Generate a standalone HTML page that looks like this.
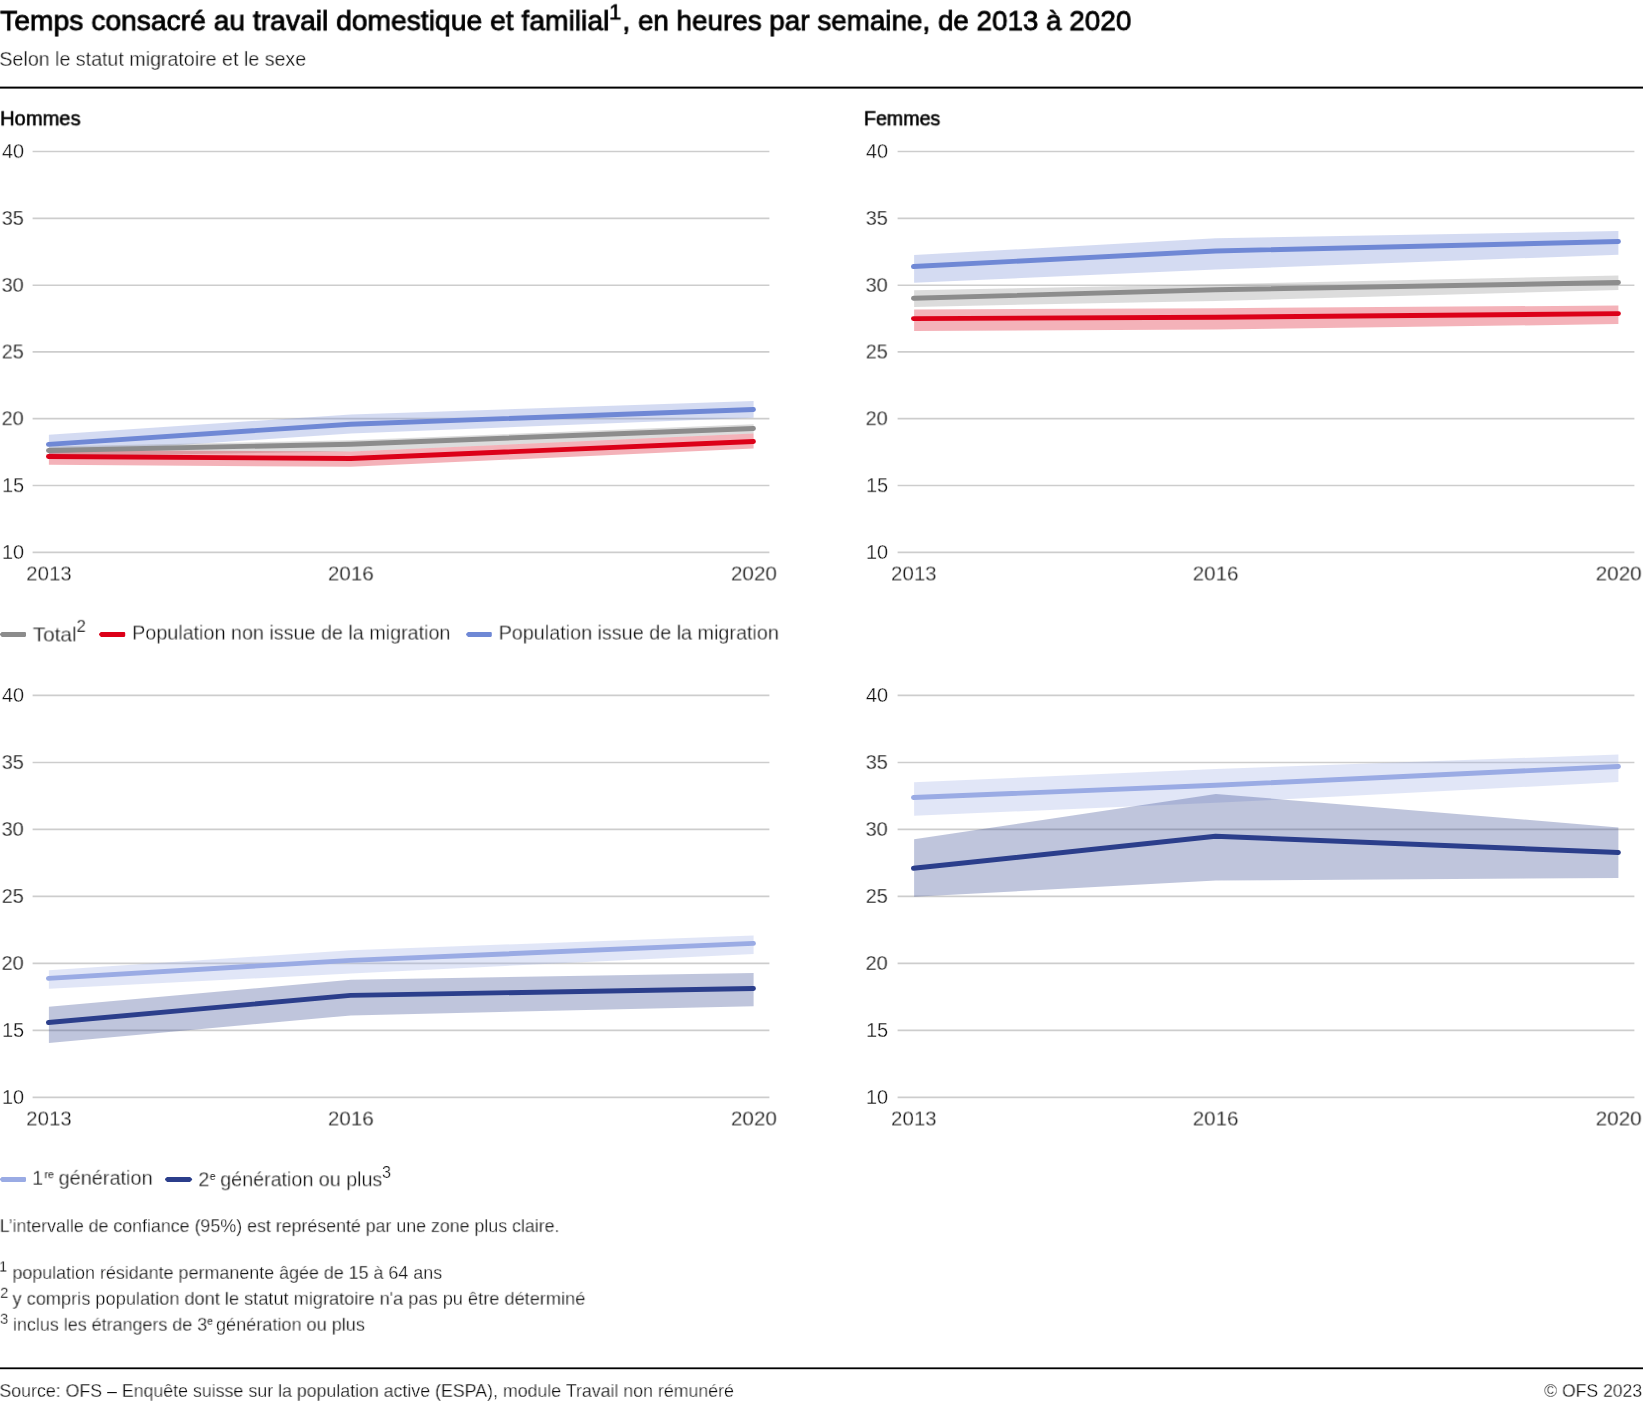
<!DOCTYPE html>
<html lang="fr"><head><meta charset="utf-8"><title>Temps consacré au travail domestique et familial</title>
<style>
html,body{margin:0;padding:0;background:#fff;}
body{width:1643px;height:1402px;position:relative;overflow:hidden;font-family:"Liberation Sans", sans-serif;}
.g{position:absolute;left:0;top:0;}
.t{position:absolute;white-space:pre;transform-origin:0 0;display:block;will-change:transform;}
</style></head>
<body>
<svg class="g" width="1643" height="1402" viewBox="0 0 1643 1402">
<rect x="0" y="86.6" width="1643" height="2" fill="#000"/>
<rect x="0" y="1367.4" width="1643" height="1.8" fill="#000"/>
<line x1="32.6" x2="769.4" y1="552.40" y2="552.40" stroke="#cdcdcd" stroke-width="1.6"/>
<line x1="32.6" x2="769.4" y1="485.55" y2="485.55" stroke="#cdcdcd" stroke-width="1.6"/>
<line x1="32.6" x2="769.4" y1="418.60" y2="418.60" stroke="#cdcdcd" stroke-width="1.6"/>
<line x1="32.6" x2="769.4" y1="351.90" y2="351.90" stroke="#cdcdcd" stroke-width="1.6"/>
<line x1="32.6" x2="769.4" y1="285.30" y2="285.30" stroke="#cdcdcd" stroke-width="1.6"/>
<line x1="32.6" x2="769.4" y1="218.40" y2="218.40" stroke="#cdcdcd" stroke-width="1.6"/>
<line x1="32.6" x2="769.4" y1="151.50" y2="151.50" stroke="#cdcdcd" stroke-width="1.6"/>
<polygon points="48.9,434.7 350.9,414.5 753.6,401.1 753.6,417.7 350.9,433.4 48.9,454.0" fill="#6f88d5" fill-opacity="0.3"/>
<polygon points="48.9,446.5 350.9,440.2 753.6,424.2 753.6,433.6 350.9,451.5 48.9,456.5" fill="#8c8c8c" fill-opacity="0.3"/>
<polygon points="48.9,450.0 350.9,451.6 753.6,433.6 753.6,448.5 350.9,466.8 48.9,464.8" fill="#dc0018" fill-opacity="0.3"/>
<polyline points="48.45,444.4 350.60,424.2 753.45,409.5" fill="none" stroke="#6f88d5" stroke-width="4.9" stroke-linecap="round" stroke-linejoin="round"/>
<polyline points="48.45,450.5 350.60,444.2 753.45,428.5" fill="none" stroke="#8c8c8c" stroke-width="4.9" stroke-linecap="round" stroke-linejoin="round"/>
<polyline points="48.45,456.5 350.60,458.5 753.45,441.5" fill="none" stroke="#dc0018" stroke-width="4.9" stroke-linecap="round" stroke-linejoin="round"/>
<line x1="897.6" x2="1634.4" y1="552.40" y2="552.40" stroke="#cdcdcd" stroke-width="1.6"/>
<line x1="897.6" x2="1634.4" y1="485.55" y2="485.55" stroke="#cdcdcd" stroke-width="1.6"/>
<line x1="897.6" x2="1634.4" y1="418.60" y2="418.60" stroke="#cdcdcd" stroke-width="1.6"/>
<line x1="897.6" x2="1634.4" y1="351.90" y2="351.90" stroke="#cdcdcd" stroke-width="1.6"/>
<line x1="897.6" x2="1634.4" y1="285.30" y2="285.30" stroke="#cdcdcd" stroke-width="1.6"/>
<line x1="897.6" x2="1634.4" y1="218.40" y2="218.40" stroke="#cdcdcd" stroke-width="1.6"/>
<line x1="897.6" x2="1634.4" y1="151.50" y2="151.50" stroke="#cdcdcd" stroke-width="1.6"/>
<polygon points="914.1,255.1 1215.9,238.2 1618.4,231.0 1618.4,254.7 1215.9,269.5 914.1,282.8" fill="#6f88d5" fill-opacity="0.3"/>
<polygon points="914.1,290.2 1215.9,284.2 1618.4,275.5 1618.4,290.0 1215.9,300.9 914.1,306.9" fill="#8c8c8c" fill-opacity="0.3"/>
<polygon points="914.1,309.5 1215.9,308.2 1618.4,305.5 1618.4,324.1 1215.9,329.6 914.1,330.9" fill="#dc0018" fill-opacity="0.3"/>
<polyline points="913.45,266.5 1215.60,251.0 1618.45,241.5" fill="none" stroke="#6f88d5" stroke-width="4.9" stroke-linecap="round" stroke-linejoin="round"/>
<polyline points="913.45,298.3 1215.60,289.8 1618.45,282.5" fill="none" stroke="#8c8c8c" stroke-width="4.9" stroke-linecap="round" stroke-linejoin="round"/>
<polyline points="913.45,318.6 1215.60,317.2 1618.45,313.6" fill="none" stroke="#dc0018" stroke-width="4.9" stroke-linecap="round" stroke-linejoin="round"/>
<line x1="32.6" x2="769.4" y1="1097.40" y2="1097.40" stroke="#cdcdcd" stroke-width="1.6"/>
<line x1="32.6" x2="769.4" y1="1030.40" y2="1030.40" stroke="#cdcdcd" stroke-width="1.6"/>
<line x1="32.6" x2="769.4" y1="963.40" y2="963.40" stroke="#cdcdcd" stroke-width="1.6"/>
<line x1="32.6" x2="769.4" y1="896.40" y2="896.40" stroke="#cdcdcd" stroke-width="1.6"/>
<line x1="32.6" x2="769.4" y1="829.40" y2="829.40" stroke="#cdcdcd" stroke-width="1.6"/>
<line x1="32.6" x2="769.4" y1="762.45" y2="762.45" stroke="#cdcdcd" stroke-width="1.6"/>
<line x1="32.6" x2="769.4" y1="695.40" y2="695.40" stroke="#cdcdcd" stroke-width="1.6"/>
<polygon points="48.9,970.3 350.9,950.2 753.6,935.4 753.6,953.9 350.9,973.5 48.9,988.7" fill="#9aabe4" fill-opacity="0.3"/>
<polygon points="48.9,1006.7 350.9,979.8 753.6,972.9 753.6,1006.3 350.9,1015.4 48.9,1042.9" fill="#2b3e8b" fill-opacity="0.3"/>
<polyline points="48.45,978.4 350.60,960.4 753.45,943.4" fill="none" stroke="#9aabe4" stroke-width="4.9" stroke-linecap="round" stroke-linejoin="round"/>
<polyline points="48.45,1022.5 350.60,995.4 753.45,988.5" fill="none" stroke="#2b3e8b" stroke-width="4.9" stroke-linecap="round" stroke-linejoin="round"/>
<line x1="897.6" x2="1634.4" y1="1097.40" y2="1097.40" stroke="#cdcdcd" stroke-width="1.6"/>
<line x1="897.6" x2="1634.4" y1="1030.40" y2="1030.40" stroke="#cdcdcd" stroke-width="1.6"/>
<line x1="897.6" x2="1634.4" y1="963.40" y2="963.40" stroke="#cdcdcd" stroke-width="1.6"/>
<line x1="897.6" x2="1634.4" y1="896.40" y2="896.40" stroke="#cdcdcd" stroke-width="1.6"/>
<line x1="897.6" x2="1634.4" y1="829.40" y2="829.40" stroke="#cdcdcd" stroke-width="1.6"/>
<line x1="897.6" x2="1634.4" y1="762.45" y2="762.45" stroke="#cdcdcd" stroke-width="1.6"/>
<line x1="897.6" x2="1634.4" y1="695.40" y2="695.40" stroke="#cdcdcd" stroke-width="1.6"/>
<polygon points="914.1,782.3 1215.9,769.0 1618.4,754.5 1618.4,782.1 1215.9,802.8 914.1,815.8" fill="#9aabe4" fill-opacity="0.3"/>
<polygon points="914.1,839.3 1215.9,793.9 1618.4,827.4 1618.4,878.0 1215.9,880.6 914.1,896.7" fill="#2b3e8b" fill-opacity="0.3"/>
<polyline points="913.45,797.5 1215.60,785.3 1618.45,766.5" fill="none" stroke="#9aabe4" stroke-width="4.9" stroke-linecap="round" stroke-linejoin="round"/>
<polyline points="913.45,868.3 1215.60,836.3 1618.45,852.5" fill="none" stroke="#2b3e8b" stroke-width="4.9" stroke-linecap="round" stroke-linejoin="round"/>
<line x1="1.30" x2="23.00" y1="634.4" y2="634.4" stroke="#8c8c8c" stroke-width="2.8" stroke-linecap="round"/>
<rect x="1.00" y="631.90" width="25.00" height="5" rx="1.1" fill="#8c8c8c"/>
<line x1="100.40" x2="122.20" y1="634.4" y2="634.4" stroke="#dc0018" stroke-width="2.8" stroke-linecap="round"/>
<rect x="100.10" y="631.90" width="25.10" height="5" rx="1.1" fill="#dc0018"/>
<line x1="467.50" x2="488.80" y1="634.4" y2="634.4" stroke="#6f88d5" stroke-width="2.8" stroke-linecap="round"/>
<rect x="467.20" y="631.90" width="24.60" height="5" rx="1.1" fill="#6f88d5"/>
<line x1="1.30" x2="23.00" y1="1179.45" y2="1179.45" stroke="#9aabe4" stroke-width="2.8" stroke-linecap="round"/>
<rect x="1.00" y="1176.95" width="25.00" height="5" rx="1.1" fill="#9aabe4"/>
<line x1="166.40" x2="190.70" y1="1179.45" y2="1179.45" stroke="#2b3e8b" stroke-width="2.8" stroke-linecap="round"/>
<rect x="166.20" y="1176.95" width="24.70" height="5" rx="1.1" fill="#2b3e8b"/>
</svg>
<span class="t" id="t1" style="left:0px;top:4px;font-size:28.44px;line-height:32px;font-weight:400;color:#000;-webkit-text-stroke:0.8px #000;transform:matrix(0.9933,0,0,1,0.13,0.15);">Temps consacré au travail domestique et familial</span>
<span class="t" id="t1s" style="left:609px;top:-1px;font-size:22px;line-height:25px;font-weight:400;color:#000;-webkit-text-stroke:0.6px #000;transform:matrix(0.9980,0,0,1,0.09,0.40);">1</span>
<span class="t" id="t2" style="left:622px;top:4px;font-size:28.2px;line-height:32px;font-weight:400;color:#000;-webkit-text-stroke:0.8px #000;transform:matrix(0.9869,0,0,1,0.43,0.15);">, en heures par semaine, de 2013 à 2020</span>
<span class="t" id="sub" style="left:-1px;top:47px;font-size:20px;line-height:22px;font-weight:400;color:#0d0d0d;-webkit-text-stroke:0.30px #fff;transform:matrix(0.9820,0,0,1,0.35,0.90);">Selon le statut migratoire et le sexe</span>
<span class="t" id="hom" style="left:0px;top:107px;font-size:20.25px;line-height:23px;font-weight:400;color:#000;-webkit-text-stroke:0.55px #000;transform:matrix(0.9923,0,0,1,0.12,0.30);">Hommes</span>
<span class="t" id="fem" style="left:863px;top:107px;font-size:20px;line-height:22px;font-weight:400;color:#000;-webkit-text-stroke:0.55px #000;transform:matrix(0.9809,0,0,1,0.94,0.30);">Femmes</span>
<span class="t" id="y00_10" style="left:1px;top:541px;font-size:20px;line-height:22px;font-weight:400;color:#0d0d0d;-webkit-text-stroke:0.30px #fff;transform:matrix(0.9980,0,0,1,0.93,0.00);">10</span>
<span class="t" id="y00_15" style="left:2px;top:474px;font-size:20px;line-height:22px;font-weight:400;color:#0d0d0d;-webkit-text-stroke:0.30px #fff;transform:matrix(0.9980,0,0,1,0.03,0.15);">15</span>
<span class="t" id="y00_20" style="left:1px;top:407px;font-size:20px;line-height:22px;font-weight:400;color:#0d0d0d;-webkit-text-stroke:0.30px #fff;transform:matrix(0.9980,0,0,1,0.55,0.20);">20</span>
<span class="t" id="y00_25" style="left:1px;top:340px;font-size:20px;line-height:22px;font-weight:400;color:#0d0d0d;-webkit-text-stroke:0.30px #fff;transform:matrix(0.9980,0,0,1,0.64,0.50);">25</span>
<span class="t" id="y00_30" style="left:1px;top:273px;font-size:20px;line-height:22px;font-weight:400;color:#0d0d0d;-webkit-text-stroke:0.30px #fff;transform:matrix(0.9980,0,0,1,0.56,0.90);">30</span>
<span class="t" id="y00_35" style="left:1px;top:207px;font-size:20px;line-height:22px;font-weight:400;color:#0d0d0d;-webkit-text-stroke:0.30px #fff;transform:matrix(0.9980,0,0,1,0.65,0.00);">35</span>
<span class="t" id="y00_40" style="left:1px;top:140px;font-size:20px;line-height:22px;font-weight:400;color:#0d0d0d;-webkit-text-stroke:0.30px #fff;transform:matrix(0.9980,0,0,1,0.93,0.10);">40</span>
<span class="t" id="x00_13" style="left:26px;top:561px;font-size:20.58px;line-height:23px;font-weight:400;color:#0d0d0d;-webkit-text-stroke:0.31px #fff;transform:matrix(0.9963,0,0,1,0.14,0.50);">2013</span>
<span class="t" id="x00_16" style="left:327px;top:561px;font-size:20.81px;line-height:23px;font-weight:400;color:#0d0d0d;-webkit-text-stroke:0.31px #fff;transform:matrix(0.9895,0,0,1,0.85,0.50);">2016</span>
<span class="t" id="x00_20" style="left:730px;top:561px;font-size:20.88px;line-height:23px;font-weight:400;color:#0d0d0d;-webkit-text-stroke:0.31px #fff;transform:matrix(0.9926,0,0,1,0.83,0.50);">2020</span>
<span class="t" id="y01_10" style="left:865px;top:541px;font-size:20px;line-height:22px;font-weight:400;color:#0d0d0d;-webkit-text-stroke:0.30px #fff;transform:matrix(0.9980,0,0,1,0.93,0.00);">10</span>
<span class="t" id="y01_15" style="left:866px;top:474px;font-size:20px;line-height:22px;font-weight:400;color:#0d0d0d;-webkit-text-stroke:0.30px #fff;transform:matrix(0.9980,0,0,1,0.03,0.15);">15</span>
<span class="t" id="y01_20" style="left:865px;top:407px;font-size:20px;line-height:22px;font-weight:400;color:#0d0d0d;-webkit-text-stroke:0.30px #fff;transform:matrix(0.9980,0,0,1,0.55,0.20);">20</span>
<span class="t" id="y01_25" style="left:865px;top:340px;font-size:20px;line-height:22px;font-weight:400;color:#0d0d0d;-webkit-text-stroke:0.30px #fff;transform:matrix(0.9980,0,0,1,0.64,0.50);">25</span>
<span class="t" id="y01_30" style="left:865px;top:273px;font-size:20px;line-height:22px;font-weight:400;color:#0d0d0d;-webkit-text-stroke:0.30px #fff;transform:matrix(0.9980,0,0,1,0.56,0.90);">30</span>
<span class="t" id="y01_35" style="left:865px;top:207px;font-size:20px;line-height:22px;font-weight:400;color:#0d0d0d;-webkit-text-stroke:0.30px #fff;transform:matrix(0.9980,0,0,1,0.65,0.00);">35</span>
<span class="t" id="y01_40" style="left:865px;top:140px;font-size:20px;line-height:22px;font-weight:400;color:#0d0d0d;-webkit-text-stroke:0.30px #fff;transform:matrix(0.9980,0,0,1,0.93,0.10);">40</span>
<span class="t" id="x01_13" style="left:890px;top:561px;font-size:20.58px;line-height:23px;font-weight:400;color:#0d0d0d;-webkit-text-stroke:0.31px #fff;transform:matrix(0.9963,0,0,1,0.94,0.50);">2013</span>
<span class="t" id="x01_16" style="left:1192px;top:561px;font-size:20.81px;line-height:23px;font-weight:400;color:#0d0d0d;-webkit-text-stroke:0.31px #fff;transform:matrix(0.9895,0,0,1,0.65,0.50);">2016</span>
<span class="t" id="x01_20" style="left:1595px;top:561px;font-size:20.88px;line-height:23px;font-weight:400;color:#0d0d0d;-webkit-text-stroke:0.31px #fff;transform:matrix(0.9926,0,0,1,0.63,0.50);">2020</span>
<span class="t" id="y10_10" style="left:1px;top:1086px;font-size:20px;line-height:22px;font-weight:400;color:#0d0d0d;-webkit-text-stroke:0.30px #fff;transform:matrix(0.9980,0,0,1,0.93,0.00);">10</span>
<span class="t" id="y10_15" style="left:2px;top:1019px;font-size:20px;line-height:22px;font-weight:400;color:#0d0d0d;-webkit-text-stroke:0.30px #fff;transform:matrix(0.9980,0,0,1,0.03,0.00);">15</span>
<span class="t" id="y10_20" style="left:1px;top:952px;font-size:20px;line-height:22px;font-weight:400;color:#0d0d0d;-webkit-text-stroke:0.30px #fff;transform:matrix(0.9980,0,0,1,0.55,0.00);">20</span>
<span class="t" id="y10_25" style="left:1px;top:885px;font-size:20px;line-height:22px;font-weight:400;color:#0d0d0d;-webkit-text-stroke:0.30px #fff;transform:matrix(0.9980,0,0,1,0.64,0.00);">25</span>
<span class="t" id="y10_30" style="left:1px;top:818px;font-size:20px;line-height:22px;font-weight:400;color:#0d0d0d;-webkit-text-stroke:0.30px #fff;transform:matrix(0.9980,0,0,1,0.56,0.00);">30</span>
<span class="t" id="y10_35" style="left:1px;top:751px;font-size:20px;line-height:22px;font-weight:400;color:#0d0d0d;-webkit-text-stroke:0.30px #fff;transform:matrix(0.9980,0,0,1,0.65,0.05);">35</span>
<span class="t" id="y10_40" style="left:1px;top:684px;font-size:20px;line-height:22px;font-weight:400;color:#0d0d0d;-webkit-text-stroke:0.30px #fff;transform:matrix(0.9980,0,0,1,0.93,0.00);">40</span>
<span class="t" id="x10_13" style="left:26px;top:1106px;font-size:20.58px;line-height:23px;font-weight:400;color:#0d0d0d;-webkit-text-stroke:0.31px #fff;transform:matrix(0.9963,0,0,1,0.14,0.50);">2013</span>
<span class="t" id="x10_16" style="left:327px;top:1106px;font-size:20.81px;line-height:23px;font-weight:400;color:#0d0d0d;-webkit-text-stroke:0.31px #fff;transform:matrix(0.9895,0,0,1,0.85,0.50);">2016</span>
<span class="t" id="x10_20" style="left:730px;top:1106px;font-size:20.88px;line-height:23px;font-weight:400;color:#0d0d0d;-webkit-text-stroke:0.31px #fff;transform:matrix(0.9926,0,0,1,0.83,0.50);">2020</span>
<span class="t" id="y11_10" style="left:865px;top:1086px;font-size:20px;line-height:22px;font-weight:400;color:#0d0d0d;-webkit-text-stroke:0.30px #fff;transform:matrix(0.9980,0,0,1,0.93,0.00);">10</span>
<span class="t" id="y11_15" style="left:866px;top:1019px;font-size:20px;line-height:22px;font-weight:400;color:#0d0d0d;-webkit-text-stroke:0.30px #fff;transform:matrix(0.9980,0,0,1,0.03,0.00);">15</span>
<span class="t" id="y11_20" style="left:865px;top:952px;font-size:20px;line-height:22px;font-weight:400;color:#0d0d0d;-webkit-text-stroke:0.30px #fff;transform:matrix(0.9980,0,0,1,0.55,0.00);">20</span>
<span class="t" id="y11_25" style="left:865px;top:885px;font-size:20px;line-height:22px;font-weight:400;color:#0d0d0d;-webkit-text-stroke:0.30px #fff;transform:matrix(0.9980,0,0,1,0.64,0.00);">25</span>
<span class="t" id="y11_30" style="left:865px;top:818px;font-size:20px;line-height:22px;font-weight:400;color:#0d0d0d;-webkit-text-stroke:0.30px #fff;transform:matrix(0.9980,0,0,1,0.56,0.00);">30</span>
<span class="t" id="y11_35" style="left:865px;top:751px;font-size:20px;line-height:22px;font-weight:400;color:#0d0d0d;-webkit-text-stroke:0.30px #fff;transform:matrix(0.9980,0,0,1,0.65,0.05);">35</span>
<span class="t" id="y11_40" style="left:865px;top:684px;font-size:20px;line-height:22px;font-weight:400;color:#0d0d0d;-webkit-text-stroke:0.30px #fff;transform:matrix(0.9980,0,0,1,0.93,0.00);">40</span>
<span class="t" id="x11_13" style="left:890px;top:1106px;font-size:20.58px;line-height:23px;font-weight:400;color:#0d0d0d;-webkit-text-stroke:0.31px #fff;transform:matrix(0.9963,0,0,1,0.94,0.50);">2013</span>
<span class="t" id="x11_16" style="left:1192px;top:1106px;font-size:20.81px;line-height:23px;font-weight:400;color:#0d0d0d;-webkit-text-stroke:0.31px #fff;transform:matrix(0.9895,0,0,1,0.65,0.50);">2016</span>
<span class="t" id="x11_20" style="left:1595px;top:1106px;font-size:20.88px;line-height:23px;font-weight:400;color:#0d0d0d;-webkit-text-stroke:0.31px #fff;transform:matrix(0.9926,0,0,1,0.63,0.50);">2020</span>
<span class="t" id="l1a" style="left:32px;top:622px;font-size:21.04px;line-height:24px;font-weight:400;color:#0d0d0d;-webkit-text-stroke:0.32px #fff;transform:matrix(0.9882,0,0,1,0.71,0.50);">Total</span>
<span class="t" id="l1as" style="left:76px;top:616px;font-size:16.6px;line-height:19px;font-weight:400;color:#0d0d0d;-webkit-text-stroke:0.25px #fff;transform:matrix(0.9980,0,0,1,0.52,0.80);">2</span>
<span class="t" id="l1b" style="left:132px;top:621px;font-size:20px;line-height:22px;font-weight:400;color:#0d0d0d;-webkit-text-stroke:0.30px #fff;transform:matrix(0.9871,0,0,1,0.15,0.60);">Population non issue de la migration</span>
<span class="t" id="l1c" style="left:498px;top:621px;font-size:20px;line-height:22px;font-weight:400;color:#0d0d0d;-webkit-text-stroke:0.30px #fff;transform:matrix(0.9881,0,0,1,0.65,0.60);">Population issue de la migration</span>
<span class="t" id="l2a1" style="left:32px;top:1166px;font-size:20px;line-height:22px;font-weight:400;color:#0d0d0d;-webkit-text-stroke:0.30px #fff;transform:matrix(0.9980,0,0,1,0.08,0.80);">1</span>
<span class="t" id="l2a2" style="left:44px;top:1168px;font-size:10.5px;line-height:12px;font-weight:400;color:#0d0d0d;transform:matrix(0.9980,0,0,1,0.46,0.20);">re</span>
<span class="t" id="l2a3" style="left:58px;top:1166px;font-size:20px;line-height:22px;font-weight:400;color:#0d0d0d;-webkit-text-stroke:0.30px #fff;transform:matrix(0.9945,0,0,1,0.61,0.80);">génération</span>
<span class="t" id="l2b1" style="left:198px;top:1168px;font-size:20px;line-height:22px;font-weight:400;color:#0d0d0d;-webkit-text-stroke:0.30px #fff;transform:matrix(0.9980,0,0,1,0.30,0.30);">2</span>
<span class="t" id="l2b2" style="left:209px;top:1170px;font-size:10.5px;line-height:12px;font-weight:400;color:#0d0d0d;transform:matrix(0.9980,0,0,1,0.74,0.00);">e</span>
<span class="t" id="l2b3" style="left:220px;top:1168px;font-size:20px;line-height:22px;font-weight:400;color:#0d0d0d;-webkit-text-stroke:0.30px #fff;transform:matrix(0.9836,0,0,1,0.32,0.30);">génération ou plus</span>
<span class="t" id="l2b4" style="left:382px;top:1164px;font-size:16px;line-height:18px;font-weight:400;color:#0d0d0d;-webkit-text-stroke:0.24px #fff;transform:matrix(0.9980,0,0,1,0.10,0.00);">3</span>
<span class="t" id="n0" style="left:-1px;top:1216px;font-size:18px;line-height:20px;font-weight:400;color:#0d0d0d;-webkit-text-stroke:0.27px #fff;transform:matrix(0.9886,0,0,1,0.66,0.10);">L’intervalle de confiance (95%) est représenté par une zone plus claire.</span>
<span class="t" id="n1s" style="left:-2px;top:1257px;font-size:15px;line-height:17px;font-weight:400;color:#0d0d0d;-webkit-text-stroke:0.23px #fff;transform:matrix(0.9980,0,0,1,0.88,0.50);">1</span>
<span class="t" id="n1" style="left:12px;top:1262px;font-size:18px;line-height:20px;font-weight:400;color:#0d0d0d;-webkit-text-stroke:0.27px #fff;transform:matrix(0.9940,0,0,1,0.43,0.90);">population résidante permanente âgée de 15 à 64 ans</span>
<span class="t" id="n2s" style="left:0px;top:1283px;font-size:15px;line-height:17px;font-weight:400;color:#0d0d0d;-webkit-text-stroke:0.23px #fff;transform:matrix(0.9980,0,0,1,0.08,0.70);">2</span>
<span class="t" id="n2" style="left:12px;top:1287px;font-size:18.31px;line-height:21px;font-weight:400;color:#0d0d0d;-webkit-text-stroke:0.27px #fff;transform:matrix(0.9943,0,0,1,0.49,0.80);">y compris population dont le statut migratoire n'a pas pu être déterminé</span>
<span class="t" id="n3s" style="left:-1px;top:1309px;font-size:15px;line-height:17px;font-weight:400;color:#0d0d0d;-webkit-text-stroke:0.23px #fff;transform:matrix(0.9980,0,0,1,0.93,0.70);">3</span>
<span class="t" id="n3a" style="left:12px;top:1314px;font-size:18px;line-height:20px;font-weight:400;color:#0d0d0d;-webkit-text-stroke:0.27px #fff;transform:matrix(0.9964,0,0,1,0.90,0.70);">inclus les étrangers de 3</span>
<span class="t" id="n3b" style="left:207px;top:1315px;font-size:10px;line-height:11px;font-weight:400;color:#0d0d0d;transform:matrix(0.9980,0,0,1,0.21,0.70);">e</span>
<span class="t" id="n3c" style="left:216px;top:1314px;font-size:18.22px;line-height:20px;font-weight:400;color:#0d0d0d;-webkit-text-stroke:0.27px #fff;transform:matrix(0.9939,0,0,1,0.01,0.70);">génération ou plus</span>
<span class="t" id="src" style="left:-1px;top:1381px;font-size:18px;line-height:20px;font-weight:400;color:#0d0d0d;-webkit-text-stroke:0.27px #fff;transform:matrix(0.9872,0,0,1,0.41,0.00);">Source: OFS – Enquête suisse sur la population active (ESPA), module Travail non rémunéré</span>
<span class="t" id="cpy" style="left:1544px;top:1381px;font-size:18px;line-height:20px;font-weight:400;color:#0d0d0d;-webkit-text-stroke:0.27px #fff;transform:matrix(0.9768,0,0,1,0.13,0.00);">© OFS 2023</span>
</body></html>
